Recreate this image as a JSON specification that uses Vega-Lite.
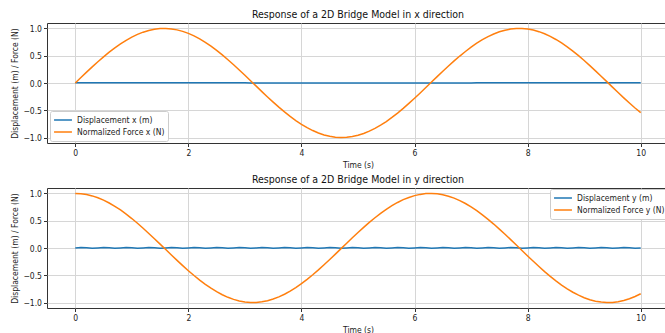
{
"$schema": "https://vega.github.io/schema/vega-lite/v6.json",
"padding": {"left": 10, "top": 9, "right": 0, "bottom": 0},
"background": "white",
"spacing": 5,
"config": {
  "font": "DejaVu Sans Condensed",
  "view": {"stroke": "#333", "strokeWidth": 1},
  "title": {"font": "DejaVu Sans Condensed", "fontSize": 10.5, "fontWeight": "normal", "color": "#111", "offset": 3},
  "axis": {"labelFont": "DejaVu Sans Condensed", "labelFontSize": 8.5, "labelColor": "#222", "titleFont": "DejaVu Sans Condensed", "titleFontSize": 8.5, "titleFontWeight": "normal", "titleColor": "#222", "gridColor": "#d6d6d6", "gridWidth": 1, "tickColor": "#333", "tickSize": 3.5, "domain": false, "labelPadding": 2, "titlePadding": 3, "labelFlush": false, "labelBound": false},
  "legend": {"fillColor": "white", "strokeColor": "#cccccc", "padding": 3, "cornerRadius": 2, "symbolType": "stroke", "symbolStrokeWidth": 1.5, "symbolSize": 320, "clipHeight": 12, "labelFont": "DejaVu Sans Condensed", "labelFontSize": 8.5, "labelColor": "#222", "offset": 4, "rowPadding": 0}
},
"data": {"values": [
{"t":0,"dx":0.005,"fx":0,"dy":0.002,"fy":1},
{"t":0.1,"dx":0.005,"fx":0.1,"dy":0.009,"fy":0.995},
{"t":0.2,"dx":0.005,"fx":0.199,"dy":0.006,"fy":0.98},
{"t":0.3,"dx":0.005,"fx":0.296,"dy":-0.003,"fy":0.955},
{"t":0.4,"dx":0.005,"fx":0.389,"dy":0.002,"fy":0.921},
{"t":0.5,"dx":0.005,"fx":0.479,"dy":0.009,"fy":0.878},
{"t":0.6,"dx":0.005,"fx":0.565,"dy":0.006,"fy":0.825},
{"t":0.7,"dx":0.005,"fx":0.644,"dy":-0.003,"fy":0.765},
{"t":0.8,"dx":0.005,"fx":0.717,"dy":0.002,"fy":0.697},
{"t":0.9,"dx":0.005,"fx":0.783,"dy":0.009,"fy":0.622},
{"t":1.0,"dx":0.005,"fx":0.841,"dy":0.006,"fy":0.54},
{"t":1.1,"dx":0.005,"fx":0.891,"dy":-0.003,"fy":0.454},
{"t":1.2,"dx":0.005,"fx":0.932,"dy":0.002,"fy":0.362},
{"t":1.3,"dx":0.005,"fx":0.964,"dy":0.009,"fy":0.267},
{"t":1.4,"dx":0.005,"fx":0.985,"dy":0.006,"fy":0.17},
{"t":1.5,"dx":0.005,"fx":0.997,"dy":-0.003,"fy":0.071},
{"t":1.6,"dx":0.005,"fx":1.0,"dy":0.002,"fy":-0.029},
{"t":1.7,"dx":0.005,"fx":0.992,"dy":0.009,"fy":-0.129},
{"t":1.8,"dx":0.005,"fx":0.974,"dy":0.006,"fy":-0.227},
{"t":1.9,"dx":0.005,"fx":0.946,"dy":-0.003,"fy":-0.323},
{"t":2.0,"dx":0.005,"fx":0.909,"dy":0.002,"fy":-0.416},
{"t":2.1,"dx":0.005,"fx":0.863,"dy":0.009,"fy":-0.505},
{"t":2.2,"dx":0.005,"fx":0.808,"dy":0.006,"fy":-0.589},
{"t":2.3,"dx":0.005,"fx":0.746,"dy":-0.003,"fy":-0.666},
{"t":2.4,"dx":0.005,"fx":0.675,"dy":0.002,"fy":-0.737},
{"t":2.5,"dx":0.005,"fx":0.598,"dy":0.009,"fy":-0.801},
{"t":2.6,"dx":0.005,"fx":0.516,"dy":0.006,"fy":-0.857},
{"t":2.7,"dx":0.005,"fx":0.427,"dy":-0.003,"fy":-0.904},
{"t":2.8,"dx":0.005,"fx":0.335,"dy":0.002,"fy":-0.942},
{"t":2.9,"dx":0.005,"fx":0.239,"dy":0.009,"fy":-0.971},
{"t":3.0,"dx":0.005,"fx":0.141,"dy":0.006,"fy":-0.99},
{"t":3.1,"dx":0.002,"fx":0.042,"dy":-0.003,"fy":-0.999},
{"t":3.2,"dx":0.002,"fx":-0.058,"dy":0.002,"fy":-0.998},
{"t":3.3,"dx":0.002,"fx":-0.158,"dy":0.009,"fy":-0.987},
{"t":3.4,"dx":0.002,"fx":-0.256,"dy":0.006,"fy":-0.967},
{"t":3.5,"dx":0.002,"fx":-0.351,"dy":-0.003,"fy":-0.936},
{"t":3.6,"dx":0.002,"fx":-0.443,"dy":0.002,"fy":-0.897},
{"t":3.7,"dx":0.002,"fx":-0.53,"dy":0.009,"fy":-0.848},
{"t":3.8,"dx":0.002,"fx":-0.612,"dy":0.006,"fy":-0.791},
{"t":3.9,"dx":0.002,"fx":-0.688,"dy":-0.003,"fy":-0.726},
{"t":4.0,"dx":0.002,"fx":-0.757,"dy":0.002,"fy":-0.654},
{"t":4.1,"dx":0.002,"fx":-0.818,"dy":0.009,"fy":-0.575},
{"t":4.2,"dx":0.002,"fx":-0.872,"dy":0.006,"fy":-0.49},
{"t":4.3,"dx":0.002,"fx":-0.916,"dy":-0.003,"fy":-0.401},
{"t":4.4,"dx":0.002,"fx":-0.952,"dy":0.002,"fy":-0.307},
{"t":4.5,"dx":0.002,"fx":-0.978,"dy":0.009,"fy":-0.211},
{"t":4.6,"dx":0.002,"fx":-0.994,"dy":0.006,"fy":-0.112},
{"t":4.7,"dx":0.002,"fx":-1.0,"dy":-0.003,"fy":-0.012},
{"t":4.8,"dx":0.002,"fx":-0.996,"dy":0.002,"fy":0.087},
{"t":4.9,"dx":0.002,"fx":-0.982,"dy":0.009,"fy":0.187},
{"t":5.0,"dx":0.002,"fx":-0.959,"dy":0.006,"fy":0.284},
{"t":5.1,"dx":0.002,"fx":-0.926,"dy":-0.003,"fy":0.378},
{"t":5.2,"dx":0.002,"fx":-0.883,"dy":0.002,"fy":0.469},
{"t":5.3,"dx":0.002,"fx":-0.832,"dy":0.009,"fy":0.554},
{"t":5.4,"dx":0.002,"fx":-0.773,"dy":0.006,"fy":0.635},
{"t":5.5,"dx":0.002,"fx":-0.706,"dy":-0.003,"fy":0.709},
{"t":5.6,"dx":0.002,"fx":-0.631,"dy":0.002,"fy":0.776},
{"t":5.7,"dx":0.002,"fx":-0.551,"dy":0.009,"fy":0.835},
{"t":5.8,"dx":0.002,"fx":-0.465,"dy":0.006,"fy":0.886},
{"t":5.9,"dx":0.002,"fx":-0.374,"dy":-0.003,"fy":0.927},
{"t":6.0,"dx":0.002,"fx":-0.279,"dy":0.002,"fy":0.96},
{"t":6.1,"dx":0.002,"fx":-0.182,"dy":0.009,"fy":0.983},
{"t":6.2,"dx":0.002,"fx":-0.083,"dy":0.006,"fy":0.997},
{"t":6.3,"dx":0.002,"fx":0.017,"dy":-0.003,"fy":1.0},
{"t":6.4,"dx":0.002,"fx":0.117,"dy":0.002,"fy":0.993},
{"t":6.5,"dx":0.002,"fx":0.215,"dy":0.009,"fy":0.977},
{"t":6.6,"dx":0.002,"fx":0.312,"dy":0.006,"fy":0.95},
{"t":6.7,"dx":0.002,"fx":0.405,"dy":-0.003,"fy":0.914},
{"t":6.8,"dx":0.002,"fx":0.494,"dy":0.002,"fy":0.869},
{"t":6.9,"dx":0.002,"fx":0.578,"dy":0.009,"fy":0.816},
{"t":7.0,"dx":0.002,"fx":0.657,"dy":0.006,"fy":0.754},
{"t":7.1,"dx":0.004,"fx":0.729,"dy":-0.003,"fy":0.685},
{"t":7.2,"dx":0.004,"fx":0.794,"dy":0.002,"fy":0.608},
{"t":7.3,"dx":0.004,"fx":0.851,"dy":0.009,"fy":0.526},
{"t":7.4,"dx":0.004,"fx":0.899,"dy":0.006,"fy":0.439},
{"t":7.5,"dx":0.004,"fx":0.938,"dy":-0.003,"fy":0.347},
{"t":7.6,"dx":0.004,"fx":0.968,"dy":0.002,"fy":0.252},
{"t":7.7,"dx":0.004,"fx":0.988,"dy":0.009,"fy":0.154},
{"t":7.8,"dx":0.004,"fx":0.999,"dy":0.006,"fy":0.055},
{"t":7.9,"dx":0.004,"fx":0.999,"dy":-0.003,"fy":-0.045},
{"t":8.0,"dx":0.004,"fx":0.989,"dy":0.002,"fy":-0.146},
{"t":8.1,"dx":0.004,"fx":0.97,"dy":0.009,"fy":-0.244},
{"t":8.2,"dx":0.004,"fx":0.941,"dy":0.006,"fy":-0.339},
{"t":8.3,"dx":0.004,"fx":0.902,"dy":-0.003,"fy":-0.432},
{"t":8.4,"dx":0.004,"fx":0.855,"dy":0.002,"fy":-0.519},
{"t":8.5,"dx":0.004,"fx":0.798,"dy":0.009,"fy":-0.602},
{"t":8.6,"dx":0.004,"fx":0.734,"dy":0.006,"fy":-0.679},
{"t":8.7,"dx":0.004,"fx":0.663,"dy":-0.003,"fy":-0.749},
{"t":8.8,"dx":0.004,"fx":0.585,"dy":0.002,"fy":-0.811},
{"t":8.9,"dx":0.004,"fx":0.501,"dy":0.009,"fy":-0.865},
{"t":9.0,"dx":0.004,"fx":0.412,"dy":0.006,"fy":-0.911},
{"t":9.1,"dx":0.004,"fx":0.319,"dy":-0.003,"fy":-0.948},
{"t":9.2,"dx":0.004,"fx":0.223,"dy":0.002,"fy":-0.975},
{"t":9.3,"dx":0.004,"fx":0.124,"dy":0.009,"fy":-0.992},
{"t":9.4,"dx":0.004,"fx":0.025,"dy":0.006,"fy":-1.0},
{"t":9.5,"dx":0.004,"fx":-0.075,"dy":-0.003,"fy":-0.997},
{"t":9.6,"dx":0.004,"fx":-0.174,"dy":0.002,"fy":-0.985},
{"t":9.7,"dx":0.004,"fx":-0.272,"dy":0.009,"fy":-0.962},
{"t":9.8,"dx":0.004,"fx":-0.366,"dy":0.006,"fy":-0.93},
{"t":9.9,"dx":0.004,"fx":-0.458,"dy":-0.003,"fy":-0.889},
{"t":10.0,"dx":0.004,"fx":-0.544,"dy":0.002,"fy":-0.839}
]},
"resolve": {"scale": {"color": "independent", "y": "independent"}, "legend": {"color": "independent"}, "axis": {"y": "independent"}},
"vconcat": [
{
  "width": 622, "height": 120,
  "title": "Response of a 2D Bridge Model in x direction",
  "encoding": {
    "x": {"field": "t", "type": "quantitative", "scale": {"domain": [-0.5, 10.5], "nice": false, "zero": false}, "axis": {"values": [0, 2, 4, 6, 8, 10], "title": "Time (s)"}},
    "y": {"type": "quantitative", "scale": {"domain": [-1.1, 1.1], "nice": false, "zero": false}, "axis": {"values": [-1, -0.5, 0, 0.5, 1], "format": ".1f", "labelOverlap": false, "labelSeparation": -50, "title": "Displacement (m) / Force (N)"}}
  },
  "layer": [
    {"mark": {"type": "line", "strokeWidth": 1.5},
     "encoding": {
       "y": {"field": "dx", "type": "quantitative"},
       "color": {"datum": "Displacement x (m)", "scale": {"domain": ["Displacement x (m)", "Normalized Force x (N)"], "range": ["#1f77b4", "#ff7f0e"]}, "legend": {"orient": "none", "legendX": 3, "legendY": 88, "title": null}}
     }},
    {"mark": {"type": "line", "strokeWidth": 1.5},
     "encoding": {
       "y": {"field": "fx", "type": "quantitative"},
       "color": {"datum": "Normalized Force x (N)"}
     }}
  ]
},
{
  "width": 622, "height": 120,
  "title": "Response of a 2D Bridge Model in y direction",
  "encoding": {
    "x": {"field": "t", "type": "quantitative", "scale": {"domain": [-0.5, 10.5], "nice": false, "zero": false}, "axis": {"values": [0, 2, 4, 6, 8, 10], "title": "Time (s)"}},
    "y": {"type": "quantitative", "scale": {"domain": [-1.1, 1.1], "nice": false, "zero": false}, "axis": {"values": [-1, -0.5, 0, 0.5, 1], "format": ".1f", "labelOverlap": false, "labelSeparation": -50, "title": "Displacement (m) / Force (N)"}}
  },
  "layer": [
    {"mark": {"type": "line", "strokeWidth": 1.5},
     "encoding": {
       "y": {"field": "dy", "type": "quantitative"},
       "color": {"datum": "Displacement y (m)", "scale": {"domain": ["Displacement y (m)", "Normalized Force y (N)"], "range": ["#1f77b4", "#ff7f0e"]}, "legend": {"orient": "top-right", "title": null, "offset": 1}}
     }},
    {"mark": {"type": "line", "strokeWidth": 1.5},
     "encoding": {
       "y": {"field": "fy", "type": "quantitative"},
       "color": {"datum": "Normalized Force y (N)"}
     }}
  ]
}
]
}
